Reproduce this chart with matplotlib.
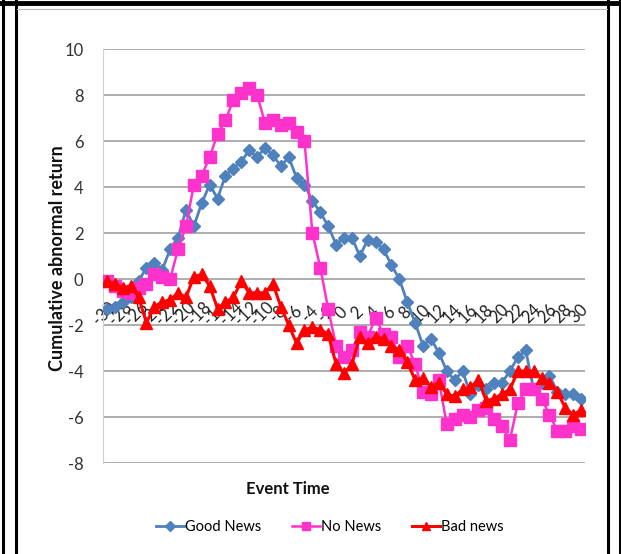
import matplotlib
matplotlib.use("Agg")
import matplotlib.pyplot as plt
from matplotlib.lines import Line2D
import numpy as np

event_time = list(range(-30, 31))
tick_labels = [str(t) for t in range(-30, 31, 2)]

good_news = [-1.3, -1.2, -1.0, -0.8, -0.1, 0.5, 0.7, 0.4, 1.3, 1.8,
             3.0, 2.3, 3.3, 4.1, 3.5, 4.5, 4.8, 5.1, 5.6, 5.3,
             5.7, 5.4, 4.9, 5.3, 4.4, 4.1, 3.4, 2.9, 2.3, 1.5,
             1.8, 1.8, 1.0, 1.7, 1.6, 1.3, 0.6, 0.0, -1.0, -1.9,
             -2.9, -2.6, -3.2, -4.0, -4.4, -4.0, -5.0, -4.6, -4.8, -4.5,
             -4.5, -4.0, -3.4, -3.1, -4.8, -4.5, -4.2, -4.9, -5.0, -5.0,
             -5.2]

no_news = [-0.1, -0.3, -0.5, -0.6, -0.4, -0.2, 0.2, 0.1, 0.0, 1.3,
           2.3, 4.1, 4.5, 5.3, 6.3, 6.9, 7.8, 8.1, 8.3, 8.0,
           6.8, 6.9, 6.7, 6.8, 6.4, 6.0, 2.0, 0.5, -1.3, -2.9,
           -3.4, -3.1, -2.3, -2.5, -1.7, -2.4, -2.5, -3.4, -2.9, -3.7,
           -4.9, -5.0, -4.4, -6.3, -6.1, -5.9, -6.0, -5.7, -5.6, -6.1,
           -6.4, -7.0, -5.4, -4.8, -4.8, -5.2, -5.9, -6.6, -6.6, -6.4,
           -6.5]

bad_news = [-0.1, -0.2, -0.4, -0.3, -0.8, -1.9, -1.2, -1.0, -0.9, -0.6,
            -0.8, 0.1, 0.2, -0.3, -1.3, -1.0, -0.8, -0.1, -0.6, -0.6,
            -0.6, -0.2, -1.2, -2.0, -2.8, -2.2, -2.1, -2.2, -2.4, -3.7,
            -4.1, -3.7, -2.5, -2.8, -2.5, -2.6, -2.9, -3.1, -3.6, -4.4,
            -4.3, -4.7, -4.5, -5.0, -5.1, -4.8, -4.7, -4.4, -5.3, -5.2,
            -5.0, -4.8, -4.0, -4.0, -4.0, -4.3, -4.5, -4.9, -5.6, -5.9,
            -5.7]

assert len(good_news) == len(no_news) == len(bad_news) == len(event_time)

FONT = ['Lato', 'DejaVu Sans']
plt.rcParams['font.family'] = FONT
plt.rcParams['axes.unicode_minus'] = False

W, H = 621, 554
fig = plt.figure(figsize=(W / 100, H / 100), dpi=100)

def fx(px):
    return px / W

def fy(py):
    return 1 - py / H

left, right, top, bottom = 103, 585, 49, 463
ax = fig.add_axes([fx(left), fy(bottom), fx(right - left), (bottom - top) / H])

ax.plot(event_time, good_news, color='#4F81BD', lw=2, marker='D', ms=6.5,
        label='Good News', zorder=3)
ax.plot(event_time, no_news, color='#FF33CC', lw=1.8, marker='s', ms=8,
        label='No News', zorder=4)
ax.plot(event_time, bad_news, color='#FF0000', lw=2.2, marker='^', ms=8.5,
        label='Bad news', zorder=5)

ax.set_xlim(-30.5, 30.5)
ax.set_ylim(-8, 10)
ax.set_yticks(range(-8, 11, 2))
ax.yaxis.grid(True, color='#A0A0A0', lw=1.2)
ax.set_axisbelow(True)
ax.set_xticks([])
for s in ['top', 'right', 'bottom']:
    ax.spines[s].set_visible(False)
ax.spines['left'].set_color('#D0D0D0')
ax.tick_params(axis='y', length=0, pad=14, labelsize=12, labelcolor='#333333')

for lbl in tick_labels:
    t = int(lbl)
    ax.text(t - 0.3, -1.5, lbl, rotation=45, ha='center', va='center',
            fontsize=12, color='#222222', rotation_mode='anchor', zorder=2)

fig.text(fx(58), fy(258), 'Cumulative abnormal return', rotation=90,
         ha='center', va='center', fontsize=13, fontweight='bold',
         color='#111111')
fig.text(fx(288), fy(489), 'Event Time', ha='center', va='center',
         fontsize=12, fontweight='bold', color='#111111')

handles, labels = ax.get_legend_handles_labels()
fig.legend(handles, labels, loc='center', bbox_to_anchor=(fx(330), fy(527)),
           ncol=3, frameon=False, fontsize=10.5, handlelength=1.9,
           handletextpad=0.1, columnspacing=2.1, markerscale=0.75)

# outer frame lines
def vline(x, lw, c='black', y0=0, y1=H):
    fig.add_artist(Line2D([fx(x), fx(x)], [fy(y0), fy(y1)], color=c, lw=lw,
                          transform=fig.transFigure))

def hline(y, lw, c='black', x0=0, x1=W):
    fig.add_artist(Line2D([fx(x0), fx(x1)], [fy(y), fy(y)], color=c, lw=lw,
                          transform=fig.transFigure))

hline(2.5, 3.5)
vline(2.5, 2.2)
vline(16, 2.2)
vline(608, 2.2)
vline(619.5, 2.2)
hline(9, 0.8, c='#BBBBBB', x0=17, x1=607)

fig.savefig('out.png', dpi=100)
